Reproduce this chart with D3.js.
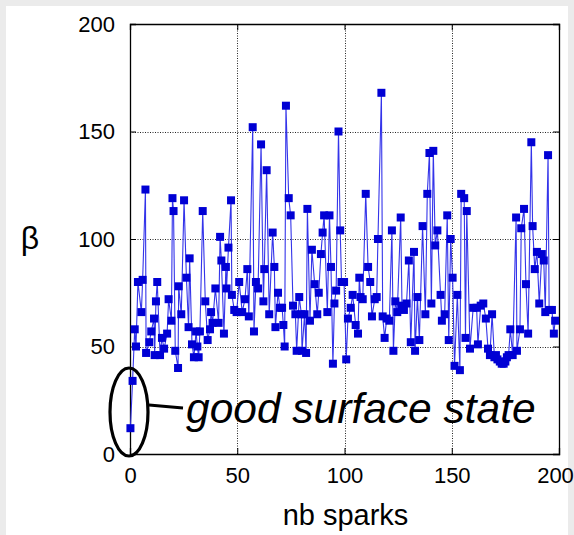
<!DOCTYPE html>
<html>
<head>
<meta charset="utf-8">
<script src="https://cdn.jsdelivr.net/npm/d3@7"></script>
<style>
  html, body { margin: 0; padding: 0; background: #ebebeb; }
  svg { display: block; }
  text { font-family: "Liberation Sans", Arial, sans-serif; fill: #000; }
</style>
</head>
<body>
<script>
// Spark number and measured beta for each spark
const sparks = [
  0.2, 1.2, 2.2, 2.8, 3.7, 5.3, 5.9, 7.2, 7.5, 9.0, 9.9, 11.2, 11.5, 12.1, 12.7, 14.0, 14.9, 15.9, 17.3, 18.0,
  19.3, 19.8, 20.3, 21.1, 22.4, 22.7, 23.9, 25.2, 26.3, 27.3, 27.8, 28.9, 29.8, 30.8, 31.4, 32.0, 32.6, 33.9, 35.1, 36.2,
  37.3, 37.8, 38.5, 39.8, 41.3, 42.0, 42.6, 43.8, 44.7, 45.0, 45.9, 47.1, 47.5, 48.6, 49.7, 50.9, 52.3, 53.6, 54.7, 55.4,
  57.2, 57.8, 58.7, 59.7, 61.1, 62.2, 62.6, 63.7, 64.9, 66.5, 67.3, 67.8, 69.0, 69.9, 70.9, 71.5, 72.1, 72.7, 74.0, 74.9,
  76.0, 77.1, 77.7, 78.9, 79.9, 80.2, 81.4, 82.1, 82.7, 83.9, 84.8, 86.1, 87.3, 88.0, 89.0, 89.8, 90.5, 92.0, 93.0, 93.7,
  94.6, 95.3, 96.1, 97.2, 98.0, 98.6, 99.8, 100.8, 101.6, 102.9, 103.8, 105.2, 106.3, 106.9, 107.5, 108.5, 109.9, 111.0, 112.0, 112.8,
  114.1, 115.0, 115.6, 117.2, 117.8, 118.7, 119.7, 120.9, 122.1, 122.8, 123.7, 124.6, 126.2, 126.8, 127.7, 128.9, 130.0, 130.9, 132.4, 132.9,
  134.0, 134.9, 136.4, 137.7, 138.6, 139.6, 140.5, 141.4, 142.3, 143.3, 144.8, 145.4, 146.7, 147.9, 148.6, 149.5, 150.4, 151.3, 152.6, 153.8,
  154.4, 155.8, 156.4, 157.0, 158.5, 160.0, 161.6, 162.2, 163.5, 164.7, 165.9, 166.9, 167.8, 168.8, 169.9, 170.6, 171.3, 172.4, 173.3, 174.2,
  175.0, 175.7, 176.5, 177.3, 178.4, 180.0, 180.4, 181.8, 182.4, 183.7, 184.6, 185.6, 187.1, 187.7, 188.7, 189.7, 190.8, 192.0, 192.9, 193.6,
  194.9, 195.4, 196.7, 197.6, 198.2
];
const beta = [
  12, 34, 58, 50, 80, 66, 81, 123, 47, 52, 57, 63, 46, 71, 80, 46, 54, 49, 56, 72,
  62, 119, 113, 48, 40, 78, 65, 118, 82, 59, 91, 51, 45, 57, 50, 45, 57, 113, 71, 53,
  58, 66, 61, 77, 61, 101, 90, 56, 87, 77, 96, 118, 74, 67, 66, 80, 66, 72, 86, 64,
  152, 57, 80, 77, 144, 71, 86, 132, 65, 103, 87, 59, 75, 68, 68, 60, 50, 162, 119, 111,
  69, 65, 48, 73, 65, 48, 65, 47, 114, 62, 95, 79, 65, 75, 93, 103, 111, 66, 111, 87,
  42, 70, 76, 150, 104, 80, 80, 44, 63, 68, 74, 60, 56, 82, 73, 72, 121, 87, 80, 64,
  72, 73, 100, 168, 64, 54, 63, 62, 104, 48, 71, 66, 110, 69, 67, 70, 90, 52, 94, 48,
  73, 53, 106, 65, 121, 140, 70, 141, 97, 104, 74, 62, 65, 111, 53, 100, 82, 41, 74, 39,
  121, 119, 54, 113, 49, 68, 68, 51, 69, 70, 63, 49, 46, 65, 45, 46, 44, 43, 42, 42,
  43, 45, 46, 58, 46, 110, 48, 58, 105, 114, 79, 56, 145, 106, 86, 94, 70, 93, 90, 66,
  139, 67, 67, 56, 62
];
const xTicks = [0, 50, 100, 150, 200];
const yTicks = [0, 50, 100, 150, 200];
const xTitle = "nb sparks";
const yTitle = "β";
const note = "good surface state";

const W = 574, H = 535;
const svg = d3.select("body").append("svg").attr("width", W).attr("height", H);

// white page panel on the grey background
svg.append("rect").attr("x", 6).attr("y", 6).attr("width", 562).attr("height", H - 6).attr("fill", "#fff");

const x = d3.scaleLinear().domain([0, 200]).range([130, 559]);
const y = d3.scaleLinear().domain([0, 200]).range([454, 24]);

// dotted grid
const grid = svg.append("g").attr("stroke", "#000").attr("stroke-width", 1)
  .attr("stroke-dasharray", "1,1.5").attr("opacity", 0.85);
grid.selectAll("line.gx").data(xTicks.slice(1, -1)).join("line")
  .attr("x1", d => Math.round(x(d)) + 0.5).attr("x2", d => Math.round(x(d)) + 0.5)
  .attr("y1", y(0)).attr("y2", y(200));
grid.selectAll("line.gy").data(yTicks.slice(1, -1)).join("line")
  .attr("y1", d => Math.round(y(d)) + 0.5).attr("y2", d => Math.round(y(d)) + 0.5)
  .attr("x1", x(0)).attr("x2", x(200));

// axes with inward ticks on all four sides
const tickLen = 6;
const axBottom = svg.append("g").attr("transform", `translate(0,${y(0)})`)
  .call(d3.axisBottom(x).tickValues(xTicks).tickSize(-tickLen).tickPadding(13));
const axTop = svg.append("g").attr("transform", `translate(0,${y(200)})`)
  .call(d3.axisTop(x).tickValues(xTicks).tickSize(-tickLen).tickFormat(""));
const axLeft = svg.append("g").attr("transform", `translate(${x(0)},0)`)
  .call(d3.axisLeft(y).tickValues(yTicks).tickSize(-tickLen).tickPadding(15));
const axRight = svg.append("g").attr("transform", `translate(${x(200)},0)`)
  .call(d3.axisRight(y).tickValues(yTicks).tickSize(-tickLen).tickFormat(""));
[axBottom, axTop, axLeft, axRight].forEach(g => {
  g.selectAll("path").attr("stroke", "#000").attr("stroke-width", 1.3);
  g.selectAll("line").attr("stroke", "#000").attr("stroke-width", 1);
  g.selectAll("text").attr("font-size", 22).attr("font-family", "'Liberation Sans', Arial, sans-serif").attr("fill", "#000");
});
// keep the last x label inside the page
axBottom.selectAll(".tick").filter(d => d === 200).select("text").attr("dx", -4);

// series line and square markers
const pts = sparks.map((s, i) => [s, beta[i]]);
svg.append("path").datum(pts)
  .attr("fill", "none").attr("stroke", "#3434ea").attr("stroke-width", 1.1)
  .attr("d", d3.line().x(d => x(d[0])).y(d => y(d[1])));
const ms = 8;
svg.append("g").selectAll("rect").data(pts).join("rect")
  .attr("x", d => x(d[0]) - ms / 2).attr("y", d => y(d[1]) - ms / 2)
  .attr("width", ms).attr("height", ms).attr("fill", "#0000d4");

// axis titles
svg.append("text").attr("x", (x(0) + x(200)) / 2 + 1).attr("y", 525)
  .attr("text-anchor", "middle").attr("font-size", 29).text(xTitle);
svg.append("text").attr("x", 30).attr("y", 249)
  .attr("text-anchor", "middle").attr("font-size", 32).text(yTitle);

// annotation: ellipse round the first sparks, leader and italic note
svg.append("ellipse").attr("cx", 129).attr("cy", 412).attr("rx", 19).attr("ry", 44)
  .attr("fill", "none").attr("stroke", "#000").attr("stroke-width", 3.2);
svg.append("line").attr("x1", 149).attr("y1", 405).attr("x2", 183).attr("y2", 408)
  .attr("stroke", "#000").attr("stroke-width", 3);
svg.append("text").attr("x", 186).attr("y", 423).attr("font-size", 42.5)
  .attr("font-style", "italic").text(note);
</script>
</body>
</html>
